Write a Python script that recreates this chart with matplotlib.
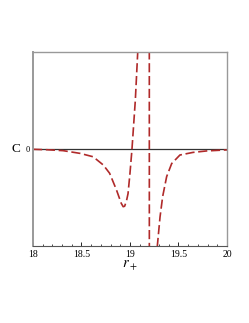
import numpy as np
import matplotlib.pyplot as plt

# C(r+); values beyond +/-1 are clipped by the axes
r_plus = [18.0, 18.15, 18.31, 18.485, 18.62, 18.725, 18.79, 18.86, 18.91, 18.93, 18.945,
          18.965, 18.98, 19.0, 19.02, 19.055, 19.085, 19.12, 19.199,
          19.2, 19.26, 19.282, 19.31, 19.337, 19.378, 19.43, 19.515, 19.65, 19.79, 19.98, 20.0]
C = [-0.003, -0.008, -0.017, -0.045, -0.08, -0.165, -0.25, -0.42, -0.56, -0.595, -0.59,
     -0.53, -0.46, -0.25, -0.01, 0.5, 1.1, 3.0, 3.0,
     -3.0, -3.0, -1.0, -0.70, -0.49, -0.285, -0.15, -0.062, -0.035, -0.02, -0.01, -0.01]

xticks = [18, 18.5, 19, 19.5, 20]
xtick_labels = ['18', '18.5', '19', '19.5', '20']

plt.rcParams['font.family'] = ['Liberation Serif', 'DejaVu Serif']
plt.rcParams['mathtext.fontset'] = 'stix'

fig = plt.figure(figsize=(2.49, 3.23), dpi=100)
ax = fig.add_axes([0.1325, 0.2384, 0.779, 0.6006])

ax.axhline(0, color='#333333', lw=0.9, zorder=1)
ax.plot(r_plus, C, color='#b02a2a', lw=1.2, dashes=(5.5, 2.2), zorder=2)

ax.set_xlim(18, 20)
ax.set_ylim(-1, 1)
ax.set_xticks(xticks)
ax.set_xticklabels(xtick_labels, fontsize=7)
ax.set_xticks(np.arange(18, 20.01, 0.1), minor=True)
ax.tick_params(axis='x', which='major', direction='in', length=3, width=0.6, pad=3)
ax.tick_params(axis='x', which='minor', direction='in', length=1.8, width=0.5)
ax.set_yticks([0])
ax.set_yticklabels(['0'], fontsize=6)
ax.tick_params(axis='y', length=0, pad=2)

for side in ['left', 'top', 'right']:
    ax.spines[side].set_color('#999999')
    ax.spines[side].set_linewidth(1.0)
ax.spines['left'].set_linewidth(1.4)
ax.spines['bottom'].set_color('#555555')
ax.spines['bottom'].set_linewidth(0.8)

ax.set_xlabel(r'$r_+$', fontsize=10.5, labelpad=0)
ax.set_ylabel('C', fontsize=9.5, rotation=0, labelpad=4, va='center')
ax.yaxis.set_label_coords(-0.09, 0.5)

plt.savefig('out.png', dpi=100)
